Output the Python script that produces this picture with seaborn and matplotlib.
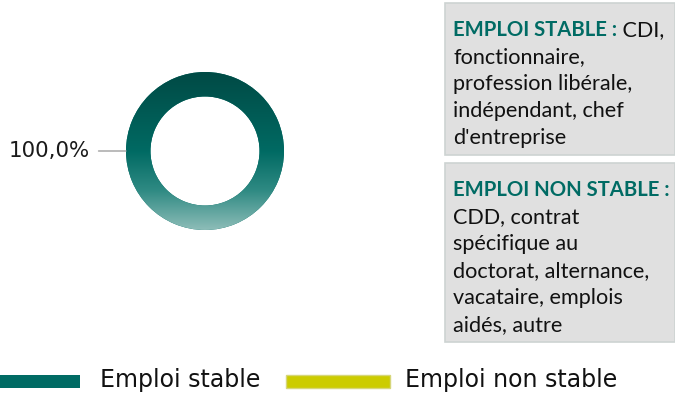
import numpy as np
import matplotlib
matplotlib.use("Agg")
import matplotlib.pyplot as plt
from matplotlib.patches import Rectangle
from matplotlib.colors import LinearSegmentedColormap
import seaborn as sns

sns.set_theme(style="white")
plt.rcParams['font.family'] = ['Lato', 'DejaVu Sans']

# ---- data ----
categories = ["Emploi stable", "Emploi non stable"]
values = [100.0, 0.0]
colors = ["#006b64", "#cccc00"]
label_text = ["100,0%"]
box1_title = "EMPLOI STABLE :"
box1_lines = [" CDI,", "fonctionnaire,", "profession libérale,", "indépendant, chef", "d'entreprise"]
box2_title = "EMPLOI NON STABLE :"
box2_lines = ["CDD, contrat", "spécifique au", "doctorat, alternance,", "vacataire, emplois", "aidés, autre"]

W, H = 675, 394
fig = plt.figure(figsize=(W / 100, H / 100), dpi=100)
fig.patch.set_facecolor("white")

def px(x, y):
    return x / W, 1 - y / H

# ---- donut ----
cx, cy, r = 205, 151, 79
ax = fig.add_axes([(cx - r) / W, (H - cy - r) / H, 2 * r / W, 2 * r / H])
nz_vals = [v for v in values if v > 0]
nz_cols = [c for v, c in zip(values, colors) if v > 0]
wedges, _ = ax.pie(nz_vals, colors=nz_cols, radius=1.0, startangle=90,
                   counterclock=False,
                   wedgeprops=dict(width=0.31, edgecolor="none"))
ax.set_xlim(-1, 1)
ax.set_ylim(-1, 1)
ax.set_aspect("equal")
ax.axis("off")

# vertical gradient on the ring (dark on top, light at the bottom)
cmap = LinearSegmentedColormap.from_list("g", ["#8dbdb8", "#2f8a83", "#006a63", "#005a54", "#004a45"])
grad = np.linspace(0, 1, 256).reshape(-1, 1)
for w in wedges:
    im = ax.imshow(grad, extent=(-1, 1, -1, 1), origin="lower", cmap=cmap,
                   aspect="auto", zorder=w.get_zorder() + 0.1)
    im.set_clip_path(w)

# label with leader line
ax.annotate(label_text[0], xy=(-1.0, 0.0), xytext=(-1.46, 0.0),
            ha="right", va="center", fontsize=15.4, color="#1a1a1a",
            fontfamily=["DejaVu Sans"],
            arrowprops=dict(arrowstyle="-", color="#a0a0a0", lw=1, shrinkA=4, shrinkB=0),
            annotation_clip=False)

# ---- info boxes ----
for (y0, y1) in [(3, 155), (163, 342)]:
    fig.add_artist(Rectangle(px(445, y1), 230 / W, (y1 - y0) / H,
                             transform=fig.transFigure, facecolor="#e0e0e0",
                             edgecolor="#cdd3d2", lw=1.2))

fs_b = 14.6
fs = 15.6
teal = "#006b64"
renderer = fig.canvas.get_renderer()

def draw_box(title, lines, y_start, step, title_inline):
    t = fig.text(*px(453, y_start), title, color=teal, fontsize=fs_b,
                 fontweight="bold", va="center", ha="left")
    ys = y_start
    if title_inline:
        bb = t.get_window_extent(renderer)
        fig.text(bb.x1 / W, 1 - ys / H, lines[0], color="#111111", fontsize=fs,
                 va="center", ha="left")
        rest = lines[1:]
    else:
        rest = lines
    for ln in rest:
        ys += step
        fig.text(*px(453, ys), ln, color="#111111", fontsize=fs, va="center", ha="left")

draw_box(box1_title, box1_lines, 30, 27, True)
draw_box(box2_title, box2_lines, 190, 27, False)

# ---- legend ----
fig.add_artist(Rectangle(px(0, 388), 80 / W, 13 / H, transform=fig.transFigure,
                         facecolor=colors[0], edgecolor="none"))
fig.text(*px(100, 380), categories[0], fontsize=17, color="#111111", va="center", ha="left",
         fontfamily=["DejaVu Sans"])
fig.add_artist(Rectangle(px(286, 388), 104 / W, 13 / H, transform=fig.transFigure,
                         facecolor=colors[1], edgecolor="#d6d67a", lw=1))
fig.text(*px(405, 380), categories[1], fontsize=17, color="#111111", va="center", ha="left",
         fontfamily=["DejaVu Sans"])

fig.savefig("out.png", dpi=100, facecolor="white")
